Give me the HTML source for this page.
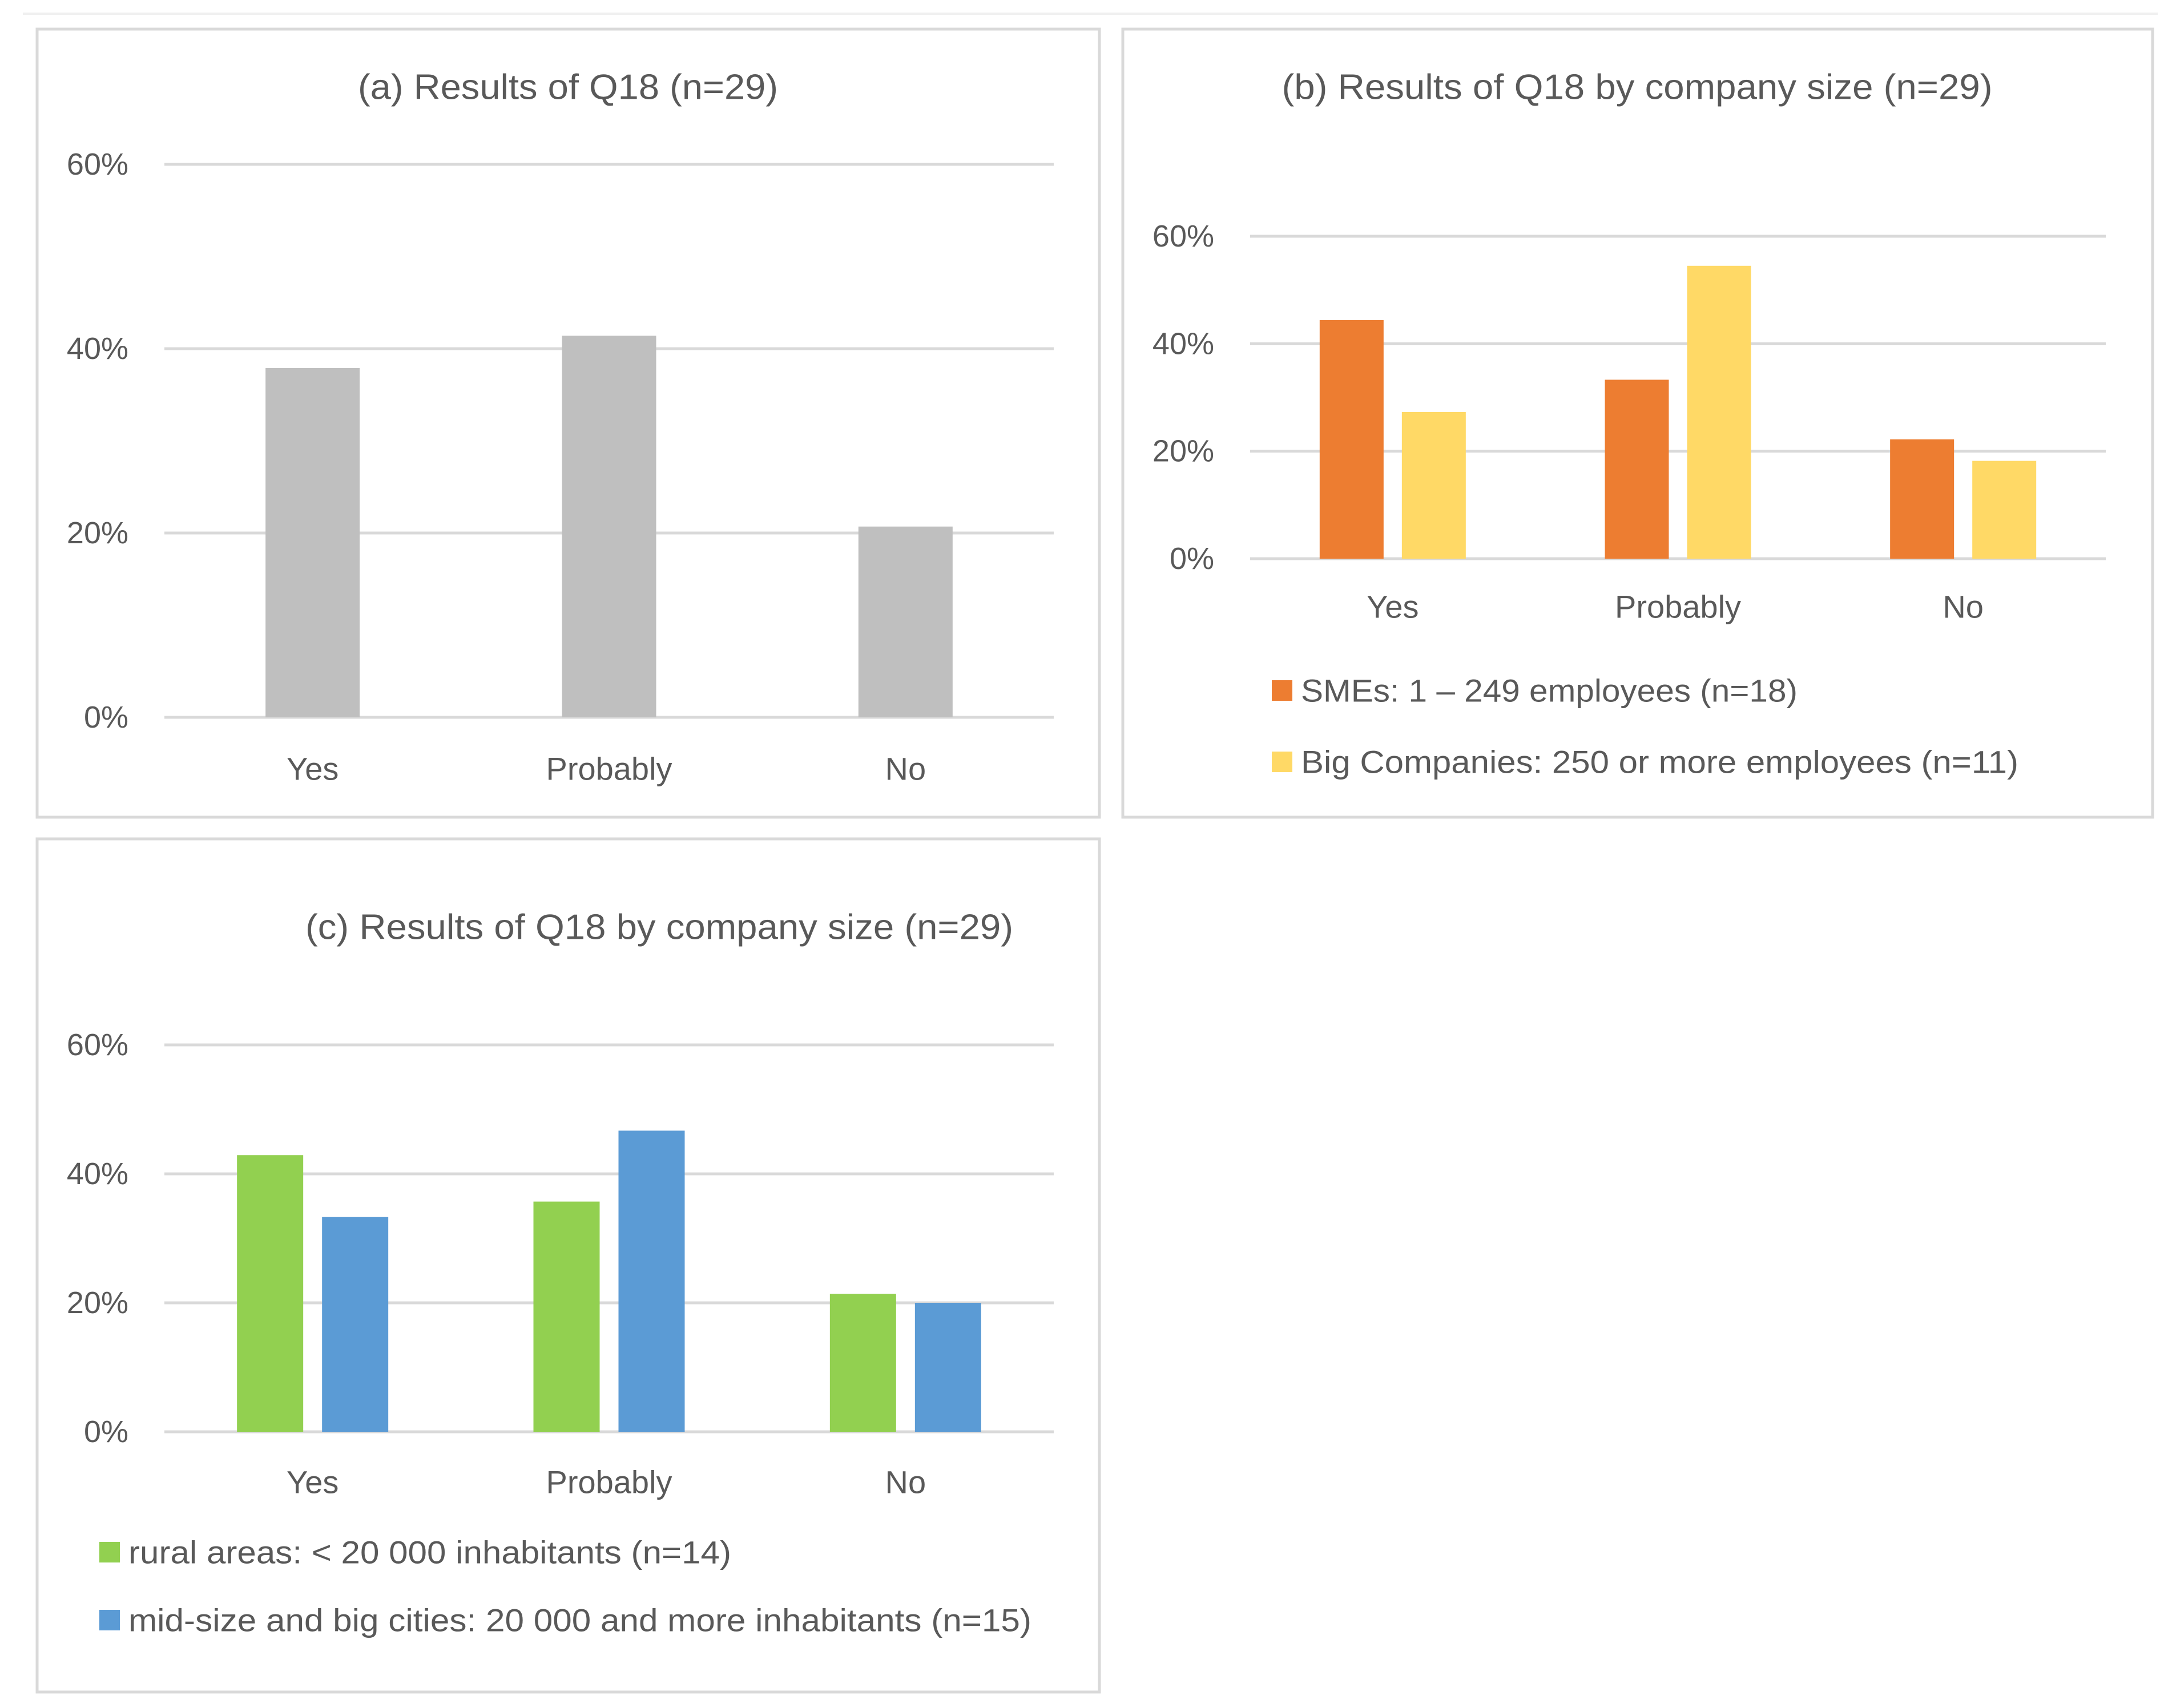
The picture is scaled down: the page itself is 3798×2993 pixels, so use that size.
<!DOCTYPE html>
<html><head><meta charset="utf-8"><style>
html,body{margin:0;padding:0;background:#fff;}
svg{display:block;}
text{font-family:"Liberation Sans",sans-serif;fill:#595959;}
</style></head><body>
<svg id="root" width="3798" height="2993" viewBox="0 0 3798 2993" xmlns="http://www.w3.org/2000/svg">
<rect x="0" y="0" width="3798" height="2993" fill="#fff"/>
<line x1="40" y1="24" x2="3780" y2="24" stroke="#f0f0f0" stroke-width="4"/>
</svg>
<script>
const categories = ["Yes", "Probably", "No"];
const ticks = [0, 20, 40, 60];
const tickLabels = ["0%", "20%", "40%", "60%"];
const seriesA = [37.9, 41.4, 20.7];
const seriesSME = [44.4, 33.3, 22.2];
const seriesBig = [27.3, 54.5, 18.2];
const seriesRural = [42.9, 35.7, 21.4];
const seriesCity = [33.3, 46.7, 20.0];
const namesB = ["SMEs: 1 – 249 employees (n=18)", "Big Companies: 250 or more employees (n=11)"];
const namesC = ["rural areas: < 20 000 inhabitants (n=14)", "mid-size and big cities: 20 000 and more inhabitants (n=15)"];

const NS = "http://www.w3.org/2000/svg";
const root = document.getElementById("root");
function mk(tag, attrs, parent) {
  const e = document.createElementNS(NS, tag);
  for (const k in attrs) e.setAttribute(k, attrs[k]);
  (parent || root).appendChild(e);
  return e;
}
function txt(parent, s, x, y, size, anchor, len) {
  const t = mk("text", {x: x, y: y, "font-size": size, "text-anchor": anchor || "start", "dominant-baseline": "central"}, parent);
  if (len) { t.setAttribute("textLength", len); t.setAttribute("lengthAdjust", "spacingAndGlyphs"); }
  t.textContent = s;
  return t;
}

function chart(cfg) {
  const g = mk("g", {});
  
  
  const box = mk("rect", {x: cfg.box[0], y: cfg.box[1], width: cfg.box[2], height: cfg.box[3], fill: "#fff", stroke: "#d9d9d9", "stroke-width": 5}, g);
  
  
  const title = txt(g, cfg.title, cfg.titleX, cfg.titleY, 62, "middle", cfg.titleLen);
  
  
  const x0 = cfg.plot[0], x1 = cfg.plot[1], yBase = cfg.plot[2], yTop = cfg.plot[3];
  const yScale = v => yBase - (v / 60) * (yBase - yTop);
  const bandW = (x1 - x0) / categories.length;
  const xCenter = i => x0 + bandW * (i + 0.5);
  ticks.forEach((v, i) => {
    const gl = mk("line", {x1: x0, x2: x1, y1: yScale(v), y2: yScale(v), stroke: "#d9d9d9", "stroke-width": 5}, g);
    
    
    const tl = txt(g, tickLabels[i], cfg.tickX, yScale(v), 54, "end");
    
    
  });
  const n = cfg.series.length;
  const bw = cfg.barW, gap = cfg.gap;
  const groupW = n * bw + (n - 1) * gap;
  cfg.series.forEach((s, si) => {
    s.forEach((v, ci) => {
      const x = xCenter(ci) - groupW / 2 + si * (bw + gap);
      const r = mk("rect", {x: x, y: yScale(v), width: bw, height: yBase - yScale(v), fill: cfg.colors[si]}, g);
      
      
    });
  });
  categories.forEach((c, ci) => {
    const t = txt(g, c, xCenter(ci), cfg.catY, 56, "middle");
    
    
  });
  if (cfg.legend) {
    cfg.legend.names.forEach((nm, i) => {
      const y = cfg.legend.y[i];
      const sw = mk("rect", {x: cfg.legend.x, y: y - 18, width: 36, height: 36, fill: cfg.colors[i]}, g);
      
      
      const t = txt(g, nm, cfg.legend.x + 51, y, 56, "start", cfg.legend.len[i]);
      
      
    });
  }
}

chart({name: "chart-a", box: [65, 51, 1861, 1381], title: "(a) Results of Q18 (n=29)", titleX: 995, titleY: 153, titleLen: 736,
  plot: [288, 1846, 1257, 288], tickX: 225, catY: 1347, series: [seriesA], colors: ["#bfbfbf"], barW: 165, gap: 0});

chart({name: "chart-b", box: [1967, 51, 1804, 1381], title: "(b) Results of Q18 by company size (n=29)", titleX: 2868, titleY: 153, titleLen: 1245,
  plot: [2190, 3689, 979, 414], tickX: 2127, catY: 1063, series: [seriesSME, seriesBig], colors: ["#ed7d31", "#ffd966"], barW: 112, gap: 32,
  legend: {x: 2228, y: [1210, 1335], names: namesB, len: [870, 1257]}});

chart({name: "chart-c", box: [65, 1470, 1861, 1495], title: "(c) Results of Q18 by company size (n=29)", titleX: 1155, titleY: 1625, titleLen: 1240,
  plot: [288, 1846, 2509, 1831], tickX: 225, catY: 2597, series: [seriesRural, seriesCity], colors: ["#92d050", "#5b9bd5"], barW: 116, gap: 33,
  legend: {x: 174, y: [2720, 2839], names: namesC, len: [1056, 1582]}});
</script>
</body></html>
